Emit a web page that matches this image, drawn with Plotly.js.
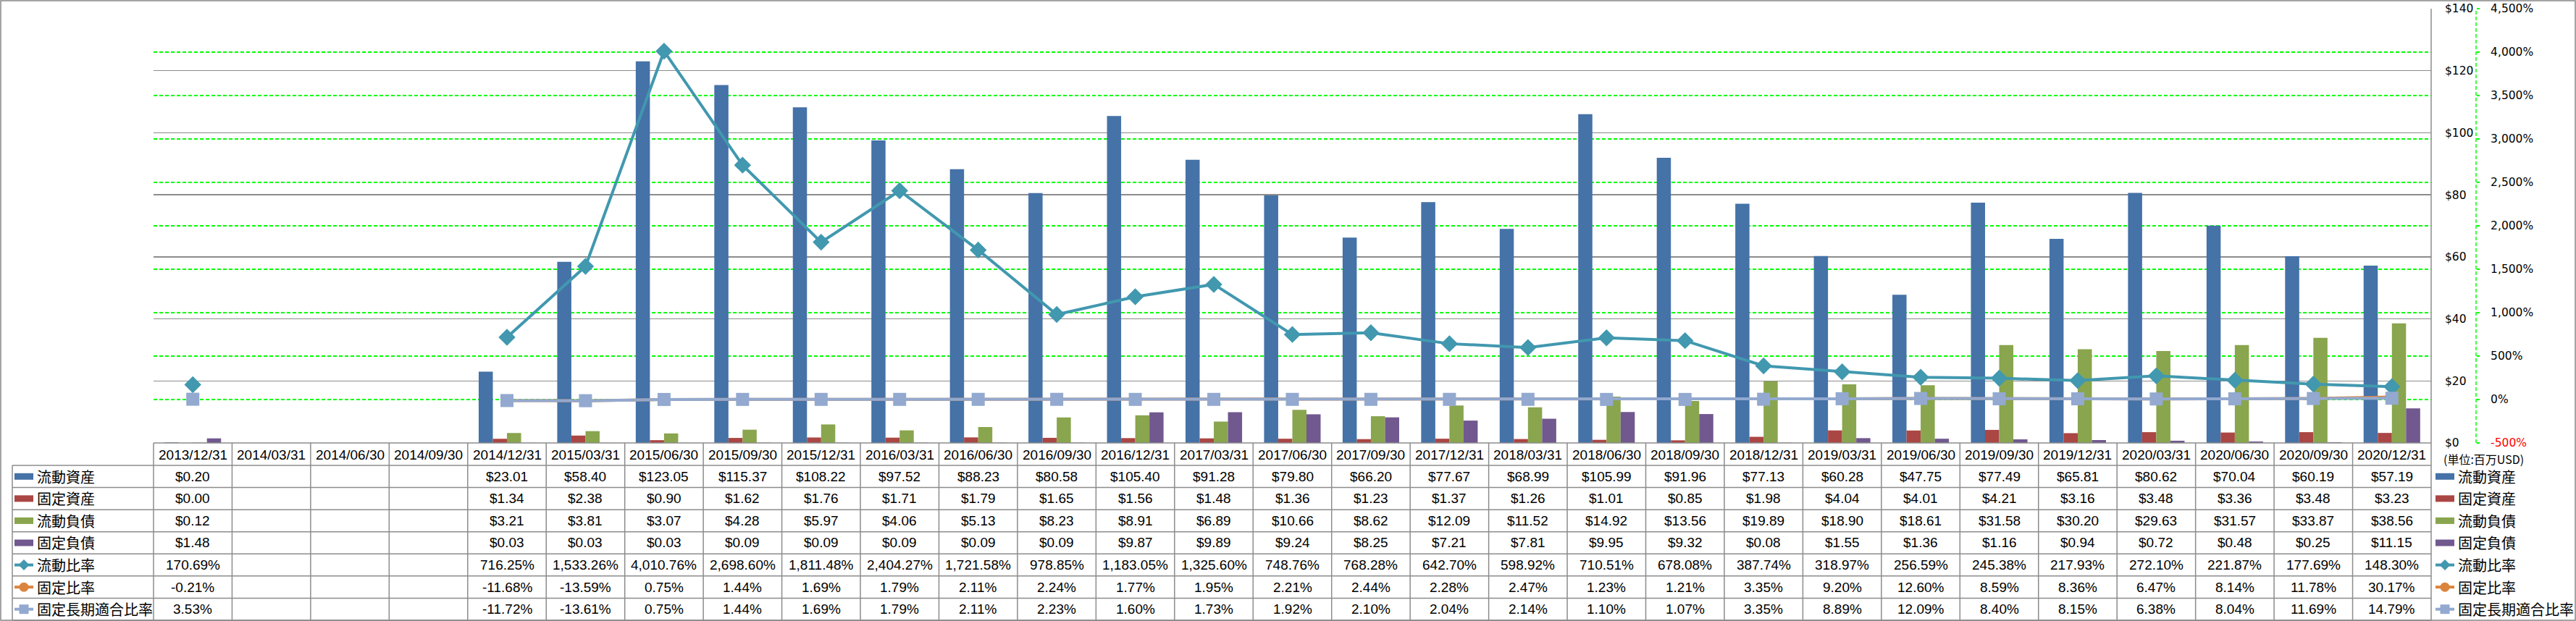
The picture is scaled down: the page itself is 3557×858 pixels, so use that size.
<!DOCTYPE html>
<html>
<head>
<meta charset="utf-8">
<script src="https://cdn.plot.ly/plotly-3.0.1.min.js"></script>
<style>html,body{margin:0;padding:0;background:#fff;overflow:hidden}</style>
</head>
<body>
<div id="chart" style="width:3557px;height:858px"></div>
<script>
// ---------------- DATA ----------------
const categories = ['2013/12/31','2014/03/31','2014/06/30','2014/09/30','2014/12/31','2015/03/31','2015/06/30','2015/09/30','2015/12/31','2016/03/31','2016/06/30','2016/09/30','2016/12/31','2017/03/31','2017/06/30','2017/09/30','2017/12/31','2018/03/31','2018/06/30','2018/09/30','2018/12/31','2019/03/31','2019/06/30','2019/09/30','2019/12/31','2020/03/31','2020/06/30','2020/09/30','2020/12/31'];

const currentAssets = [0.20,null,null,null,23.01,58.40,123.05,115.37,108.22,97.52,88.23,80.58,105.40,91.28,79.80,66.20,77.67,68.99,105.99,91.96,77.13,60.28,47.75,77.49,65.81,80.62,70.04,60.19,57.19];
const fixedAssets = [0.00,null,null,null,1.34,2.38,0.90,1.62,1.76,1.71,1.79,1.65,1.56,1.48,1.36,1.23,1.37,1.26,1.01,0.85,1.98,4.04,4.01,4.21,3.16,3.48,3.36,3.48,3.23];
const currentLiabilities = [0.12,null,null,null,3.21,3.81,3.07,4.28,5.97,4.06,5.13,8.23,8.91,6.89,10.66,8.62,12.09,11.52,14.92,13.56,19.89,18.90,18.61,31.58,30.20,29.63,31.57,33.87,38.56];
const fixedLiabilities = [1.48,null,null,null,0.03,0.03,0.03,0.09,0.09,0.09,0.09,0.09,9.87,9.89,9.24,8.25,7.21,7.81,9.95,9.32,0.08,1.55,1.36,1.16,0.94,0.72,0.48,0.25,11.15];
const currentRatio = [170.69,null,null,null,716.25,1533.26,4010.76,2698.60,1811.48,2404.27,1721.58,978.85,1183.05,1325.60,748.76,768.28,642.70,598.92,710.51,678.08,387.74,318.97,256.59,245.38,217.93,272.10,221.87,177.69,148.30];
const fixedRatio = [-0.21,null,null,null,-11.68,-13.59,0.75,1.44,1.69,1.79,2.11,2.24,1.77,1.95,2.21,2.44,2.28,2.47,1.23,1.21,3.35,9.20,12.60,8.59,8.36,6.47,8.14,11.78,30.17];
const fixedLongTermRatio = [3.53,null,null,null,-11.72,-13.61,0.75,1.44,1.69,1.79,2.11,2.23,1.60,1.73,1.92,2.10,2.04,2.14,1.10,1.07,3.35,8.89,12.09,8.40,8.15,6.38,8.04,11.69,14.79];

const seriesNames = ['流動資産','固定資産','流動負債','固定負債','流動比率','固定比率','固定長期適合比率'];
const moneyTicks = [0,20,40,60,80,100,120,140];
const ratioTicks = [-500,0,500,1000,1500,2000,2500,3000,3500,4000,4500];
const unitLabel = '(単位:百万USD)';

// ---------------- STYLE / GEOMETRY ----------------
const barColors = ['#4572A7','#AA4643','#89A54E','#71588F'];
const lineColors = ['#4198AF','#DB843D','#93A9CF'];
const W = 3557, H = 858;
const L = 212, PR = 3357, PAPER_R = 3430, T = 12, B = 612;
const PW = PAPER_R - L, PH = B - T;
const fx = x => (x - L) / PW;
const fy = y => (B - y) / PH;
const gray = '#8C8C8C';
const numFont = 'Liberation Sans, Arial, Noto Sans CJK JP, sans-serif';
const cjkFont = 'Noto Sans CJK JP, Liberation Sans, sans-serif';
const axisFont = 'DejaVu Sans, Verdana, sans-serif';

const barSeries = [currentAssets, fixedAssets, currentLiabilities, fixedLiabilities];
const lineSeries = [currentRatio, fixedRatio, fixedLongTermRatio];
const lineSymbols = ['diamond','circle','square'];
const lineSizes = [18, 13, 18];

const traces = [];
barSeries.forEach((arr, k) => {
  traces.push({type:'bar', x:categories, y:arr, name:seriesNames[k], yaxis:'y',
    marker:{color:barColors[k], line:{width:0}}, showlegend:false, hoverinfo:'skip'});
});
lineSeries.forEach((arr, k) => {
  traces.push({type:'scatter', mode:'lines+markers', x:categories, y:arr, name:seriesNames[4+k], yaxis:'y2',
    connectgaps:false, line:{color:lineColors[k], width:4},
    marker:{symbol:lineSymbols[k], size:lineSizes[k], color:lineColors[k], line:{width:0}},
    showlegend:false, hoverinfo:'skip'});
});

// ---------------- TABLE ----------------
const fmtMoney = v => v == null ? '' : '$' + v.toFixed(2);
const fmtPct = v => v == null ? '' : v.toLocaleString('en-US',{minimumFractionDigits:2, maximumFractionDigits:2}) + '%';
const allRows = [currentAssets, fixedAssets, currentLiabilities, fixedLiabilities, currentRatio, fixedRatio, fixedLongTermRatio];
const rowFmt = [fmtMoney, fmtMoney, fmtMoney, fmtMoney, fmtPct, fmtPct, fmtPct];

const headTop = 612, rowTop = 643, rowH = 30.57, nRows = 7;
const tableBottom = rowTop + rowH * nRows;
const colW = (PR - L) / categories.length;
const rowCenter = r => rowTop + rowH * (r + 0.5);

const annotations = [];
const shapes = [];

// header
categories.forEach((c, i) => {
  annotations.push({xref:'x', x:i, yref:'paper', y:fy(628), text:c, showarrow:false,
    xanchor:'center', yanchor:'middle', font:{family:numFont, size:19, color:'#000'}});
});
// values
allRows.forEach((arr, r) => {
  arr.forEach((v, i) => {
    if (v == null) return;
    annotations.push({xref:'x', x:i, yref:'paper', y:fy(rowCenter(r)), text:rowFmt[r](v), showarrow:false,
      xanchor:'center', yanchor:'middle', font:{family:numFont, size:19, color:'#000'}});
  });
});
// row labels + right legend labels
seriesNames.forEach((n, r) => {
  annotations.push({xref:'paper', x:fx(49), yref:'paper', y:fy(rowCenter(r)), text:n, showarrow:false,
    xanchor:'left', yanchor:'middle', font:{family:cjkFont, size:20, color:'#000'}});
  annotations.push({xref:'paper', x:fx(3392), yref:'paper', y:fy(rowCenter(r)), text:n, showarrow:false,
    xanchor:'left', yanchor:'middle', font:{family:cjkFont, size:20, color:'#000'}});
});
annotations.push({xref:'paper', x:fx(3372), yref:'paper', y:fy(634), text:unitLabel, showarrow:false,
  xanchor:'left', yanchor:'middle', font:{family:cjkFont, size:16, color:'#000'}});

// legend icons (row header and right legend)
function addIcon(x0, r) {
  const c = rowCenter(r);
  const x1 = x0 + 26, xm = x0 + 13;
  if (r < 4) {
    shapes.push({type:'rect', xref:'paper', yref:'paper', x0:fx(x0), x1:fx(x1), y0:fy(c+4.5), y1:fy(c-4.5),
      fillcolor:barColors[r], line:{width:0}});
  } else {
    const k = r - 4, col = lineColors[k];
    shapes.push({type:'line', xref:'paper', yref:'paper', x0:fx(x0), x1:fx(x1), y0:fy(c), y1:fy(c),
      line:{color:col, width:4}});
    if (k === 0) {
      const d = 7.5;
      shapes.push({type:'path', xref:'paper', yref:'paper',
        path:`M${fx(xm-d)},${fy(c)} L${fx(xm)},${fy(c-d)} L${fx(xm+d)},${fy(c)} L${fx(xm)},${fy(c+d)} Z`,
        fillcolor:col, line:{width:0}});
    } else if (k === 1) {
      shapes.push({type:'circle', xref:'paper', yref:'paper', x0:fx(xm-6.5), x1:fx(xm+6.5), y0:fy(c+6.5), y1:fy(c-6.5),
        fillcolor:col, line:{width:0}});
    } else {
      shapes.push({type:'rect', xref:'paper', yref:'paper', x0:fx(xm-6.5), x1:fx(xm+6.5), y0:fy(c+6.5), y1:fy(c-6.5),
        fillcolor:col, line:{width:0}});
    }
  }
}
for (let r = 0; r < nRows; r++) { addIcon(20, r); addIcon(3363, r); }

// table grid lines
const ln = (x0,y0,x1,y1,color,w) => shapes.push({type:'line', xref:'paper', yref:'paper',
  x0:fx(x0), y0:fy(y0), x1:fx(x1), y1:fy(y1), line:{color:color||gray, width:w||1.5}});
ln(L, headTop, PR, headTop);
for (let k = 0; k <= nRows; k++) ln(17, rowTop + rowH*k, PR, rowTop + rowH*k);
for (let i = 0; i <= categories.length; i++) ln(L + colW*i, headTop, L + colW*i, tableBottom);
ln(17, rowTop, 17, tableBottom);
// plot right border
ln(PR, T, PR, B);
// dashed green ratio-axis line
shapes.push({type:'line', xref:'paper', yref:'paper', x0:fx(3419), x1:fx(3419), y0:0, y1:1,
  line:{color:'#00FF00', width:1.5, dash:'5px,3px'}});
// outer chart border
shapes.push({type:'rect', xref:'paper', yref:'paper', x0:fx(1), x1:fx(W-1), y0:fy(H-1), y1:fy(1),
  line:{color:'#868686', width:1.5}, fillcolor:'rgba(0,0,0,0)'});

const layout = {
  width:W, height:H, autosize:false,
  margin:{l:L, r:W-PAPER_R, t:T, b:H-B, pad:0},
  paper_bgcolor:'#fff', plot_bgcolor:'#fff',
  barmode:'group', bargap:0.28, bargroupgap:0,
  showlegend:false,
  xaxis:{type:'category', domain:[0,(PR-L)/PW], range:[-0.5, categories.length-0.5],
    showticklabels:false, showgrid:false, zeroline:false, showline:false, ticks:'', fixedrange:true},
  yaxis:{side:'right', range:[0,140], tickmode:'array', tickvals:moneyTicks,
    ticktext:moneyTicks.map(v => '$' + v),
    showgrid:true, gridcolor:gray, gridwidth:1.3, zeroline:false, showline:false, ticks:'',
    ticklabelstandoff:18, tickfont:{family:axisFont, size:15.5, color:'#000'}, fixedrange:true},
  yaxis2:{overlaying:'y', side:'right', anchor:'free', position:fx(3419), range:[-500,4500],
    tickmode:'array', tickvals:ratioTicks,
    ticktext:ratioTicks.map(v => v < 0 ? '<span style="color:#FF0000">' + v.toLocaleString('en-US') + '%</span>' : v.toLocaleString('en-US') + '%'),
    showgrid:true, gridcolor:'#00FF00', griddash:'5px,3px', gridwidth:1.5, zeroline:false, showline:false,
    ticks:'outside', ticklen:4, tickcolor:'#00FF00', tickwidth:1.2,
    ticklabelstandoff:12, tickfont:{family:axisFont, size:15.5, color:'#000'}, fixedrange:true},
  annotations:annotations,
  shapes:shapes
};

Plotly.newPlot('chart', traces, layout, {displayModeBar:false, staticPlot:true});
</script>
</body>
</html>
